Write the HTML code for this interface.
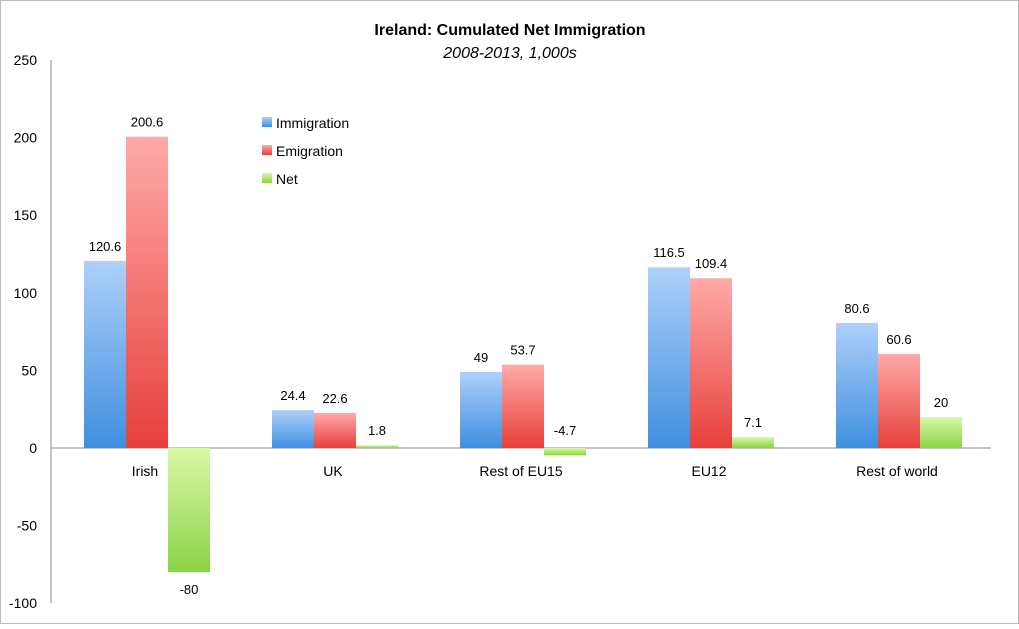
<!DOCTYPE html>
<html><head><meta charset="utf-8"><style>
body{margin:0;background:#fff;font-family:"Liberation Sans",sans-serif}
svg text{font-family:"Liberation Sans",sans-serif}
</style></head><body>
<svg id="c" width="1019" height="624">
<defs>
<linearGradient id="gI" x1="0" y1="0" x2="0" y2="1"><stop offset="0" stop-color="#aed0fa"/><stop offset="1" stop-color="#3f8fe0"/></linearGradient>
<linearGradient id="gE" x1="0" y1="0" x2="0" y2="1"><stop offset="0" stop-color="#ffaaa8"/><stop offset="1" stop-color="#e6403b"/></linearGradient>
<linearGradient id="gN" x1="0" y1="0" x2="0" y2="1"><stop offset="0" stop-color="#d9f9a6"/><stop offset="1" stop-color="#8ad246"/></linearGradient>
</defs>
<rect x="0.5" y="0.5" width="1018" height="623" fill="#fff" stroke="#bbb"/>
<text x="510" y="35" text-anchor="middle" font-size="16" font-weight="bold">Ireland: Cumulated Net Immigration</text>
<text x="510" y="58" text-anchor="middle" font-size="16" font-style="italic">2008-2013, 1,000s</text>
<g id="plot"></g>
</svg>
<script>
const categories=["Irish","UK","Rest of EU15","EU12","Rest of world"];
const immigration=[120.6,24.4,49,116.5,80.6];
const emigration=[200.6,22.6,53.7,109.4,60.6];
const net=[-80,1.8,-4.7,7.1,20];
const ticks=[250,200,150,100,50,0,-50,-100];
const seriesNames=["Immigration","Emigration","Net"];
const NS="http://www.w3.org/2000/svg";
const g=document.getElementById('plot');
const x0=51,catW=188,barW=42,barOff=33;
function y(v){return 448-v*(388/250);}
function mk(t,a){const e=document.createElementNS(NS,t);for(const k in a)e.setAttribute(k,a[k]);g.appendChild(e);return e;}
ticks.forEach(t=>{const tx=mk('text',{x:37,y:y(t)+5,'text-anchor':'end','font-size':14});tx.textContent=t;

});
const ax=mk('line',{x1:x0,y1:y(250),x2:x0,y2:y(-100),stroke:'#888'});


const xa=mk('line',{x1:x0,y1:y(0),x2:x0+catW*5,y2:y(0),stroke:'#888'});


const series=[immigration,emigration,net],fills=["url(#gI)","url(#gE)","url(#gN)"],keys=["immigration","emigration","net"];
categories.forEach((c,i)=>{
 const cx=x0+catW*i;
 const tl=mk('text',{x:cx+catW/2,y:476,'text-anchor':'middle','font-size':14});tl.textContent=c;
 
 
 series.forEach((s,j)=>{
  const v=s[i],bx=cx+barOff+j*barW,top=Math.min(y(v),y(0)),h=Math.abs(y(v)-y(0));
  const r=mk('rect',{x:bx,y:top,width:barW,height:Math.max(h,1),fill:fills[j]});
  
  
  let ly;
  if(v>=0) ly=y(v)-10;
  else if(h<30) ly=y(0)-13;
  else ly=y(v)+22;
  const l=mk('text',{x:bx+barW/2,y:ly,'text-anchor':'middle','font-size':13});l.textContent=v;
  
  
 });
});
seriesNames.forEach((n,j)=>{
 const ly=122+j*28;
 const r=mk('rect',{x:262,y:ly-5,width:10,height:10,fill:fills[j]});
 
 
 const t=mk('text',{x:276,y:ly+6,'font-size':14});t.textContent=n;
 
 
});
</script>
</body></html>
